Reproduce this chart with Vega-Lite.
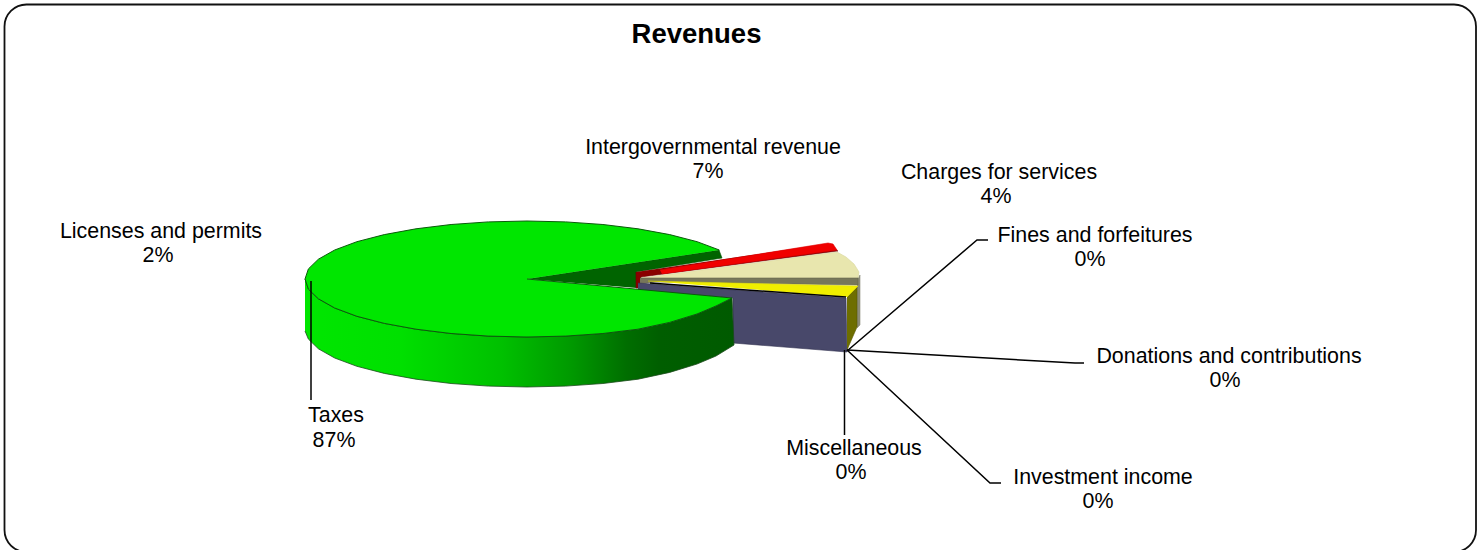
{
"$schema":"https://vega.github.io/schema/vega-lite/v6.json",
"width":1483,"height":550,"padding":0,"autosize":{"type":"none"},"background":"white",
"config":{"view":{"stroke":null}},
"title":{"text":"Revenues","font":"Liberation Sans","fontSize":27.5,"fontWeight":"bold","color":"#000000","anchor":"middle","offset":0,"dx":-45,"dy":48},
"datasets":{
"frame":[{"x":4.5,"x2":1476,"y":4.5,"y2":552}],
"shapes":[
{"part":"wedge","i":1,"x":527,"y":279},{"part":"wedge","i":2,"x":719,"y":250},{"part":"wedge","i":3,"x":722,"y":258},{"part":"wedge","i":4,"x":636,"y":272},{"part":"wedge","i":5,"x":637,"y":288},
{"part":"redwall","i":1,"x":636,"y":272},{"part":"redwall","i":2,"x":636,"y":288},{"part":"redwall","i":3,"x":641,"y":288},{"part":"redwall","i":4,"x":641,"y":277},{"part":"redwall","i":5,"x":838,"y":251},{"part":"redwall","i":6,"x":826,"y":244},
{"part":"red","i":1,"x":660,"y":270},{"part":"red","i":2,"x":828,"y":243},{"part":"red","i":3,"x":833,"y":244},{"part":"red","i":4,"x":837,"y":250},{"part":"red","i":5,"x":662,"y":274},
{"part":"beigewall","i":1,"x":857,"y":280},{"part":"beigewall","i":2,"x":860,"y":275},{"part":"beigewall","i":3,"x":860,"y":325},{"part":"beigewall","i":4,"x":857,"y":328},
{"part":"beige","i":1,"x":641,"y":278},{"part":"beige","i":2,"x":837,"y":252},{"part":"beige","i":3,"x":846,"y":257},{"part":"beige","i":4,"x":854,"y":264},{"part":"beige","i":5,"x":859,"y":272},{"part":"beige","i":6,"x":858,"y":278},
{"part":"grey","i":1,"x":640,"y":278},{"part":"grey","i":2,"x":858,"y":278},{"part":"grey","i":3,"x":858,"y":285},{"part":"grey","i":4,"x":655,"y":282},{"part":"grey","i":5,"x":640,"y":284},
{"part":"slate","i":1,"x":638,"y":283},{"part":"slate","i":2,"x":846,"y":298},{"part":"slate","i":3,"x":847,"y":352},{"part":"slate","i":4,"x":733,"y":343},{"part":"slate","i":5,"x":733,"y":298},{"part":"slate","i":6,"x":638,"y":290},
{"part":"yellowwall","i":1,"x":847,"y":297},{"part":"yellowwall","i":2,"x":857,"y":287},{"part":"yellowwall","i":3,"x":857,"y":327},{"part":"yellowwall","i":4,"x":847,"y":350},
{"part":"yellow","i":1,"x":648,"y":281},{"part":"yellow","i":2,"x":858,"y":286},{"part":"yellow","i":3,"x":847,"y":297}
],
"wall":[
{"i":1,"x":305,"y":279},{"i":2,"x":308.4,"y":289.1},{"i":3,"x":318.4,"y":298.8},{"i":4,"x":334.7,"y":308},{"i":5,"x":356.9,"y":316.3},{"i":6,"x":384.3,"y":323.4},{"i":7,"x":416,"y":329.2},{"i":8,"x":451.1,"y":333.5},{"i":9,"x":488.4,"y":336.1},{"i":10,"x":527,"y":337},{"i":11,"x":565.6,"y":336.1},{"i":12,"x":602.9,"y":333.5},{"i":13,"x":638,"y":329.2},{"i":14,"x":669.7,"y":322.4},{"i":15,"x":697,"y":314},{"i":16,"x":716,"y":306},{"i":17,"x":732,"y":298},
{"i":18,"x":734,"y":345},{"i":19,"x":716,"y":356},{"i":20,"x":697,"y":364},{"i":21,"x":669.7,"y":372.4},{"i":22,"x":638,"y":379.2},{"i":23,"x":602.9,"y":383.5},{"i":24,"x":565.6,"y":386.1},{"i":25,"x":527,"y":387},{"i":26,"x":488.4,"y":386.1},{"i":27,"x":451.1,"y":383.5},{"i":28,"x":416,"y":379.2},{"i":29,"x":384.3,"y":373.4},{"i":30,"x":356.9,"y":366.3},{"i":31,"x":334.7,"y":358},{"i":32,"x":318.4,"y":348.8},{"i":33,"x":308.4,"y":339.1},{"i":34,"x":305,"y":331}
],
"top":[
{"i":1,"x":719.3,"y":250},{"i":2,"x":697.1,"y":241.7},{"i":3,"x":669.7,"y":234.6},{"i":4,"x":638,"y":228.8},{"i":5,"x":602.9,"y":224.5},{"i":6,"x":565.6,"y":221.9},{"i":7,"x":527,"y":221},{"i":8,"x":488.4,"y":221.9},{"i":9,"x":451.1,"y":224.5},{"i":10,"x":416,"y":228.8},{"i":11,"x":384.3,"y":234.6},{"i":12,"x":356.9,"y":241.7},{"i":13,"x":334.7,"y":250},{"i":14,"x":318.4,"y":259.2},{"i":15,"x":308.4,"y":268.9},{"i":16,"x":305,"y":279},{"i":17,"x":308.4,"y":289.1},{"i":18,"x":318.4,"y":298.8},{"i":19,"x":334.7,"y":308},{"i":20,"x":356.9,"y":316.3},{"i":21,"x":384.3,"y":323.4},{"i":22,"x":416,"y":329.2},{"i":23,"x":451.1,"y":333.5},{"i":24,"x":488.4,"y":336.1},{"i":25,"x":527,"y":337},{"i":26,"x":565.6,"y":336.1},{"i":27,"x":602.9,"y":333.5},{"i":28,"x":638,"y":329.2},{"i":29,"x":669.7,"y":322.4},{"i":30,"x":697,"y":314},{"i":31,"x":716,"y":306},{"i":32,"x":732,"y":298},{"i":33,"x":527,"y":279}
],
"leaders":[
{"to":"Taxes","i":1,"x":311,"y":281},{"to":"Taxes","i":2,"x":311,"y":400},
{"to":"Fines","i":1,"x":847,"y":351},{"to":"Fines","i":2,"x":977,"y":240},{"to":"Fines","i":3,"x":988,"y":240},
{"to":"Donations","i":1,"x":847,"y":350},{"to":"Donations","i":2,"x":1075,"y":363},{"to":"Donations","i":3,"x":1084,"y":363},
{"to":"Investment","i":1,"x":847,"y":350},{"to":"Investment","i":2,"x":990,"y":483},{"to":"Investment","i":3,"x":1001,"y":483},
{"to":"Misc","i":1,"x":844.5,"y":350},{"to":"Misc","i":2,"x":844.5,"y":435},
{"to":"SlateEdge","i":1,"x":650,"y":283},{"to":"SlateEdge","i":2,"x":846,"y":297}
],
"labels":[
{"name":"Taxes","pct":"87%","x":336,"y":416,"xp":334,"yp":441},
{"name":"Intergovernmental revenue","pct":"7%","x":713,"y":148,"xp":708,"yp":172},
{"name":"Charges for services","pct":"4%","x":999,"y":173,"xp":996,"yp":197},
{"name":"Licenses and permits","pct":"2%","x":161,"y":232,"xp":158,"yp":256},
{"name":"Fines and forfeitures","pct":"0%","x":1095,"y":236,"xp":1090,"yp":260},
{"name":"Donations and contributions","pct":"0%","x":1229,"y":357,"xp":1225,"yp":381},
{"name":"Investment income","pct":"0%","x":1103,"y":478,"xp":1098,"yp":502},
{"name":"Miscellaneous","pct":"0%","x":854,"y":449,"xp":851,"yp":473}
]
},
"layer":[
{"data":{"name":"frame"},"mark":{"type":"rect","fill":"white","stroke":"#111111","strokeWidth":1.8,"cornerRadius":22},
"encoding":{"x":{"field":"x","type":"quantitative","scale":{"domain":[0,1483],"nice":false,"zero":false},"axis":null},"x2":{"field":"x2"},"y":{"field":"y","type":"quantitative","scale":{"domain":[550,0],"nice":false,"zero":false},"axis":null},"y2":{"field":"y2"}}},
{"data":{"name":"shapes"},"mark":{"type":"line","strokeWidth":0.6,"clip":false},
"encoding":{"x":{"field":"x","type":"quantitative","axis":null},"y":{"field":"y","type":"quantitative","axis":null},"order":{"field":"i","type":"quantitative"},
"fill":{"field":"part","type":"nominal","legend":null,"scale":{"domain":["wedge","redwall","red","beigewall","beige","grey","slate","yellowwall","yellow"],"range":["#006400","#8a0000","#f00000","#8c8c78","#e8e6ae","#77775a","#48486a","#6e6e00","#f0ee00"]}},
"stroke":{"field":"part","type":"nominal","legend":null,"scale":{"domain":["wedge","redwall","red","beigewall","beige","grey","slate","yellowwall","yellow"],"range":["#005000","#700000","#e00000","#8c8c78","#d8d6a0","#66664c","#333350","#555500","#e0de00"]}}}},
{"data":{"name":"wall"},"mark":{"type":"line","stroke":"#1a4a1a","strokeWidth":0.8,"fill":{"gradient":"linear","x1":0,"y1":0,"x2":1,"y2":0,"stops":[{"offset":0,"color":"#00e600"},{"offset":0.22,"color":"#00e000"},{"offset":0.46,"color":"#00c000"},{"offset":0.625,"color":"#009800"},{"offset":0.75,"color":"#006e00"},{"offset":0.83,"color":"#005e00"},{"offset":1,"color":"#005a00"}]}},
"encoding":{"x":{"field":"x","type":"quantitative","axis":null},"y":{"field":"y","type":"quantitative","axis":null},"order":{"field":"i","type":"quantitative"}}},
{"data":{"name":"top"},"mark":{"type":"line","fill":"#00e600","stroke":"#0b5a0b","strokeWidth":1},
"encoding":{"x":{"field":"x","type":"quantitative","axis":null},"y":{"field":"y","type":"quantitative","axis":null},"order":{"field":"i","type":"quantitative"}}},
{"data":{"name":"leaders"},"mark":{"type":"line","stroke":"#000000","strokeWidth":1.5},
"encoding":{"x":{"field":"x","type":"quantitative","axis":null},"y":{"field":"y","type":"quantitative","axis":null},"order":{"field":"i","type":"quantitative"},"detail":{"field":"to","type":"nominal"}}},
{"data":{"name":"labels"},"mark":{"type":"text","font":"Liberation Sans","fontSize":21.4,"color":"#000000","align":"center","baseline":"middle"},
"encoding":{"x":{"field":"x","type":"quantitative","axis":null},"y":{"field":"y","type":"quantitative","axis":null},"text":{"field":"name"}}},
{"data":{"name":"labels"},"mark":{"type":"text","font":"Liberation Sans","fontSize":21.4,"color":"#000000","align":"center","baseline":"middle"},
"encoding":{"x":{"field":"xp","type":"quantitative","axis":null},"y":{"field":"yp","type":"quantitative","axis":null},"text":{"field":"pct"}}}
],
"resolve":{"scale":{"fill":"independent","stroke":"independent"}}
}
